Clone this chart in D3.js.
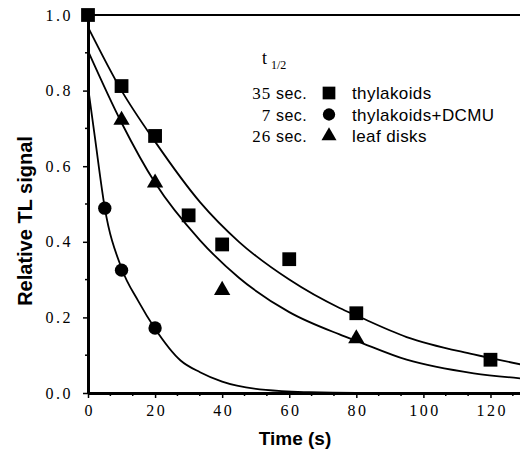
<!DOCTYPE html>
<html>
<head>
<meta charset="utf-8">
<script src="https://cdn.jsdelivr.net/npm/d3@7"></script>
<style>
  body { margin: 0; background: #fff; }
  svg { display: block; }
</style>
</head>
<body>
<div class="chart"></div>
<script>
// measured points (time in s, relative TL signal)
const thylakoidT = [0, 10, 20, 30, 40, 60, 80, 120];
const thylakoidV = [1.0, 0.812, 0.68, 0.47, 0.393, 0.354, 0.211, 0.088];
const dcmuT = [5, 10, 20];
const dcmuV = [0.489, 0.325, 0.172];
const leafT = [10, 20, 40, 80];
const leafV = [0.722, 0.556, 0.272, 0.144];

// fitted curves
const thylakoidFitT = [0, 10, 20, 33.4, 45, 60, 75, 80, 95, 115, 130];
const thylakoidFitV = [0.968, 0.80, 0.665, 0.505, 0.40, 0.30, 0.225, 0.205, 0.148, 0.102, 0.074];
const dcmuFitT = [0, 2, 5, 10, 15, 20, 27.6, 33.4, 40, 53, 66, 80, 130];
const dcmuFitV = [0.81, 0.68, 0.49, 0.33, 0.243, 0.17, 0.086, 0.055, 0.03, 0.008, 0.002, 0, 0];
const leafFitT = [0, 10, 20, 33.4, 45, 60, 75, 80, 95, 115, 130];
const leafFitV = [0.905, 0.715, 0.556, 0.404, 0.305, 0.214, 0.155, 0.138, 0.088, 0.052, 0.038];

// axis ticks
const xTicks = [0, 20, 40, 60, 80, 100, 120];
const yTicks = [0.0, 0.2, 0.4, 0.6, 0.8, 1.0];

// legend
const legendHalf = ["35", "7", "26"];
const legendNames = ["thylakoids", "thylakoids+DCMU", "leaf disks"];
const legendShapes = [d3.symbolSquare, d3.symbolCircle, d3.symbolTriangle];

const width = 520;
const height = 458;
const margin = { top: 15, left: 88, bottom: 65 };

const serif = "'Liberation Serif', 'Times New Roman', serif";
const sans = "'Liberation Sans', Arial, sans-serif";

let svg = d3.select(".chart").append("svg")
    .attr("width", width)
    .attr("height", height);

const xScale = d3.scaleLinear()
    .domain([0, 130])
    .range([margin.left, margin.left + 130 * 3.354]);

const yScale = d3.scaleLinear()
    .domain([0, 1])
    .range([height - margin.bottom, margin.top]);

// minor ticks
const xMinor = d3.range(0, 131, 20 / 3).filter(d => !xTicks.some(t => Math.abs(t - d) < 0.01));
const yMinor = d3.range(0.1, 1.0, 0.2);

// x axis
let xAxis = svg.append("g")
    .attr("transform", `translate(0, ${yScale(0)})`)
    .call(d3.axisBottom(xScale).tickValues(xTicks).tickSize(5).tickSizeOuter(0).tickPadding(7)
        .tickFormat(d3.format("d")));
xAxis.select(".domain").attr("stroke-width", 3);
xAxis.selectAll(".tick line").attr("stroke-width", 1.5);
xAxis.selectAll("text")
    .attr("font-family", serif).attr("font-size", 16).attr("fill", "#000")
    .attr("letter-spacing", 2.5).attr("dx", 1.2);
xAxis.selectAll(".minor").data(xMinor).enter().append("line")
    .attr("x1", d => xScale(d)).attr("x2", d => xScale(d))
    .attr("y1", 0).attr("y2", 3)
    .attr("stroke", "#000").attr("stroke-width", 1.5);

// y axis
let yAxis = svg.append("g")
    .attr("transform", `translate(${margin.left}, 0)`)
    .call(d3.axisLeft(yScale).tickValues(yTicks).tickSize(5).tickSizeOuter(0).tickPadding(10)
        .tickFormat(d3.format(".1f")));
yAxis.select(".domain").attr("stroke-width", 3);
yAxis.selectAll(".tick line").attr("stroke-width", 1.5);
yAxis.selectAll("text")
    .attr("font-family", serif).attr("font-size", 16).attr("fill", "#000")
    .attr("letter-spacing", 2.5);
yAxis.selectAll(".minor").data(yMinor).enter().append("line")
    .attr("y1", d => yScale(d)).attr("y2", d => yScale(d))
    .attr("x1", 0).attr("x2", -3)
    .attr("stroke", "#000").attr("stroke-width", 1.5);

// top frame line
svg.append("line")
    .attr("x1", xScale(0)).attr("x2", width)
    .attr("y1", yScale(1)).attr("y2", yScale(1))
    .attr("stroke", "#000").attr("stroke-width", 2.2);

// axis titles
svg.append("text")
    .attr("x", 295).attr("y", 445)
    .attr("text-anchor", "middle")
    .attr("font-family", sans).attr("font-weight", "bold").attr("font-size", 19)
    .text("Time (s)");

svg.append("text")
    .attr("transform", "translate(32, 221) rotate(-90)")
    .attr("text-anchor", "middle")
    .attr("font-family", sans).attr("font-weight", "bold").attr("font-size", 20)
    .text("Relative TL signal");

// fitted curves
let line = d3.line()
    .x(d => xScale(d[0]))
    .y(d => yScale(d[1]))
    .curve(d3.curveMonotoneX);

[[thylakoidFitT, thylakoidFitV], [dcmuFitT, dcmuFitV], [leafFitT, leafFitV]].forEach(function (s) {
    svg.append("path")
        .datum(d3.zip(s[0], s[1]))
        .attr("d", line)
        .attr("fill", "none")
        .attr("stroke", "#000")
        .attr("stroke-width", 1.8);
});

// markers
const sizes = [190, 140, 115];
[[thylakoidT, thylakoidV], [dcmuT, dcmuV], [leafT, leafV]].forEach(function (s, i) {
    svg.selectAll(".pt" + i).data(d3.zip(s[0], s[1])).enter().append("path")
        .attr("class", "pt" + i)
        .attr("transform", d => `translate(${xScale(d[0])}, ${yScale(d[1])})`)
        .attr("d", d3.symbol().type(legendShapes[i]).size(sizes[i]))
        .attr("fill", "#000");
});

// legend
let legend = svg.append("g");
let tHead = legend.append("text")
    .attr("x", 262).attr("y", 64)
    .attr("font-family", serif).attr("font-size", 18);
tHead.append("tspan").text("t");
tHead.append("tspan").attr("dx", 4).attr("dy", 5).attr("font-size", 12).text("1/2");

legendNames.forEach(function (name, i) {
    let y = 99 + i * 21.5;
    let lbl = legend.append("text")
        .attr("x", 307).attr("y", y)
        .attr("text-anchor", "end")
        .attr("font-size", 16);
    lbl.append("tspan").attr("font-family", serif).attr("font-size", 17).attr("letter-spacing", 1).text(legendHalf[i]);
    lbl.append("tspan").attr("font-family", sans).attr("letter-spacing", 0.4).text(" sec.");
    legend.append("path")
        .attr("transform", `translate(329, ${y - 6})`)
        .attr("d", d3.symbol().type(legendShapes[i]).size(sizes[i] * 0.85))
        .attr("fill", "#000");
    legend.append("text")
        .attr("x", 352).attr("y", y)
        .attr("font-family", sans).attr("font-size", 17).attr("letter-spacing", 0.4)
        .text(name);
});
</script>
</body>
</html>
